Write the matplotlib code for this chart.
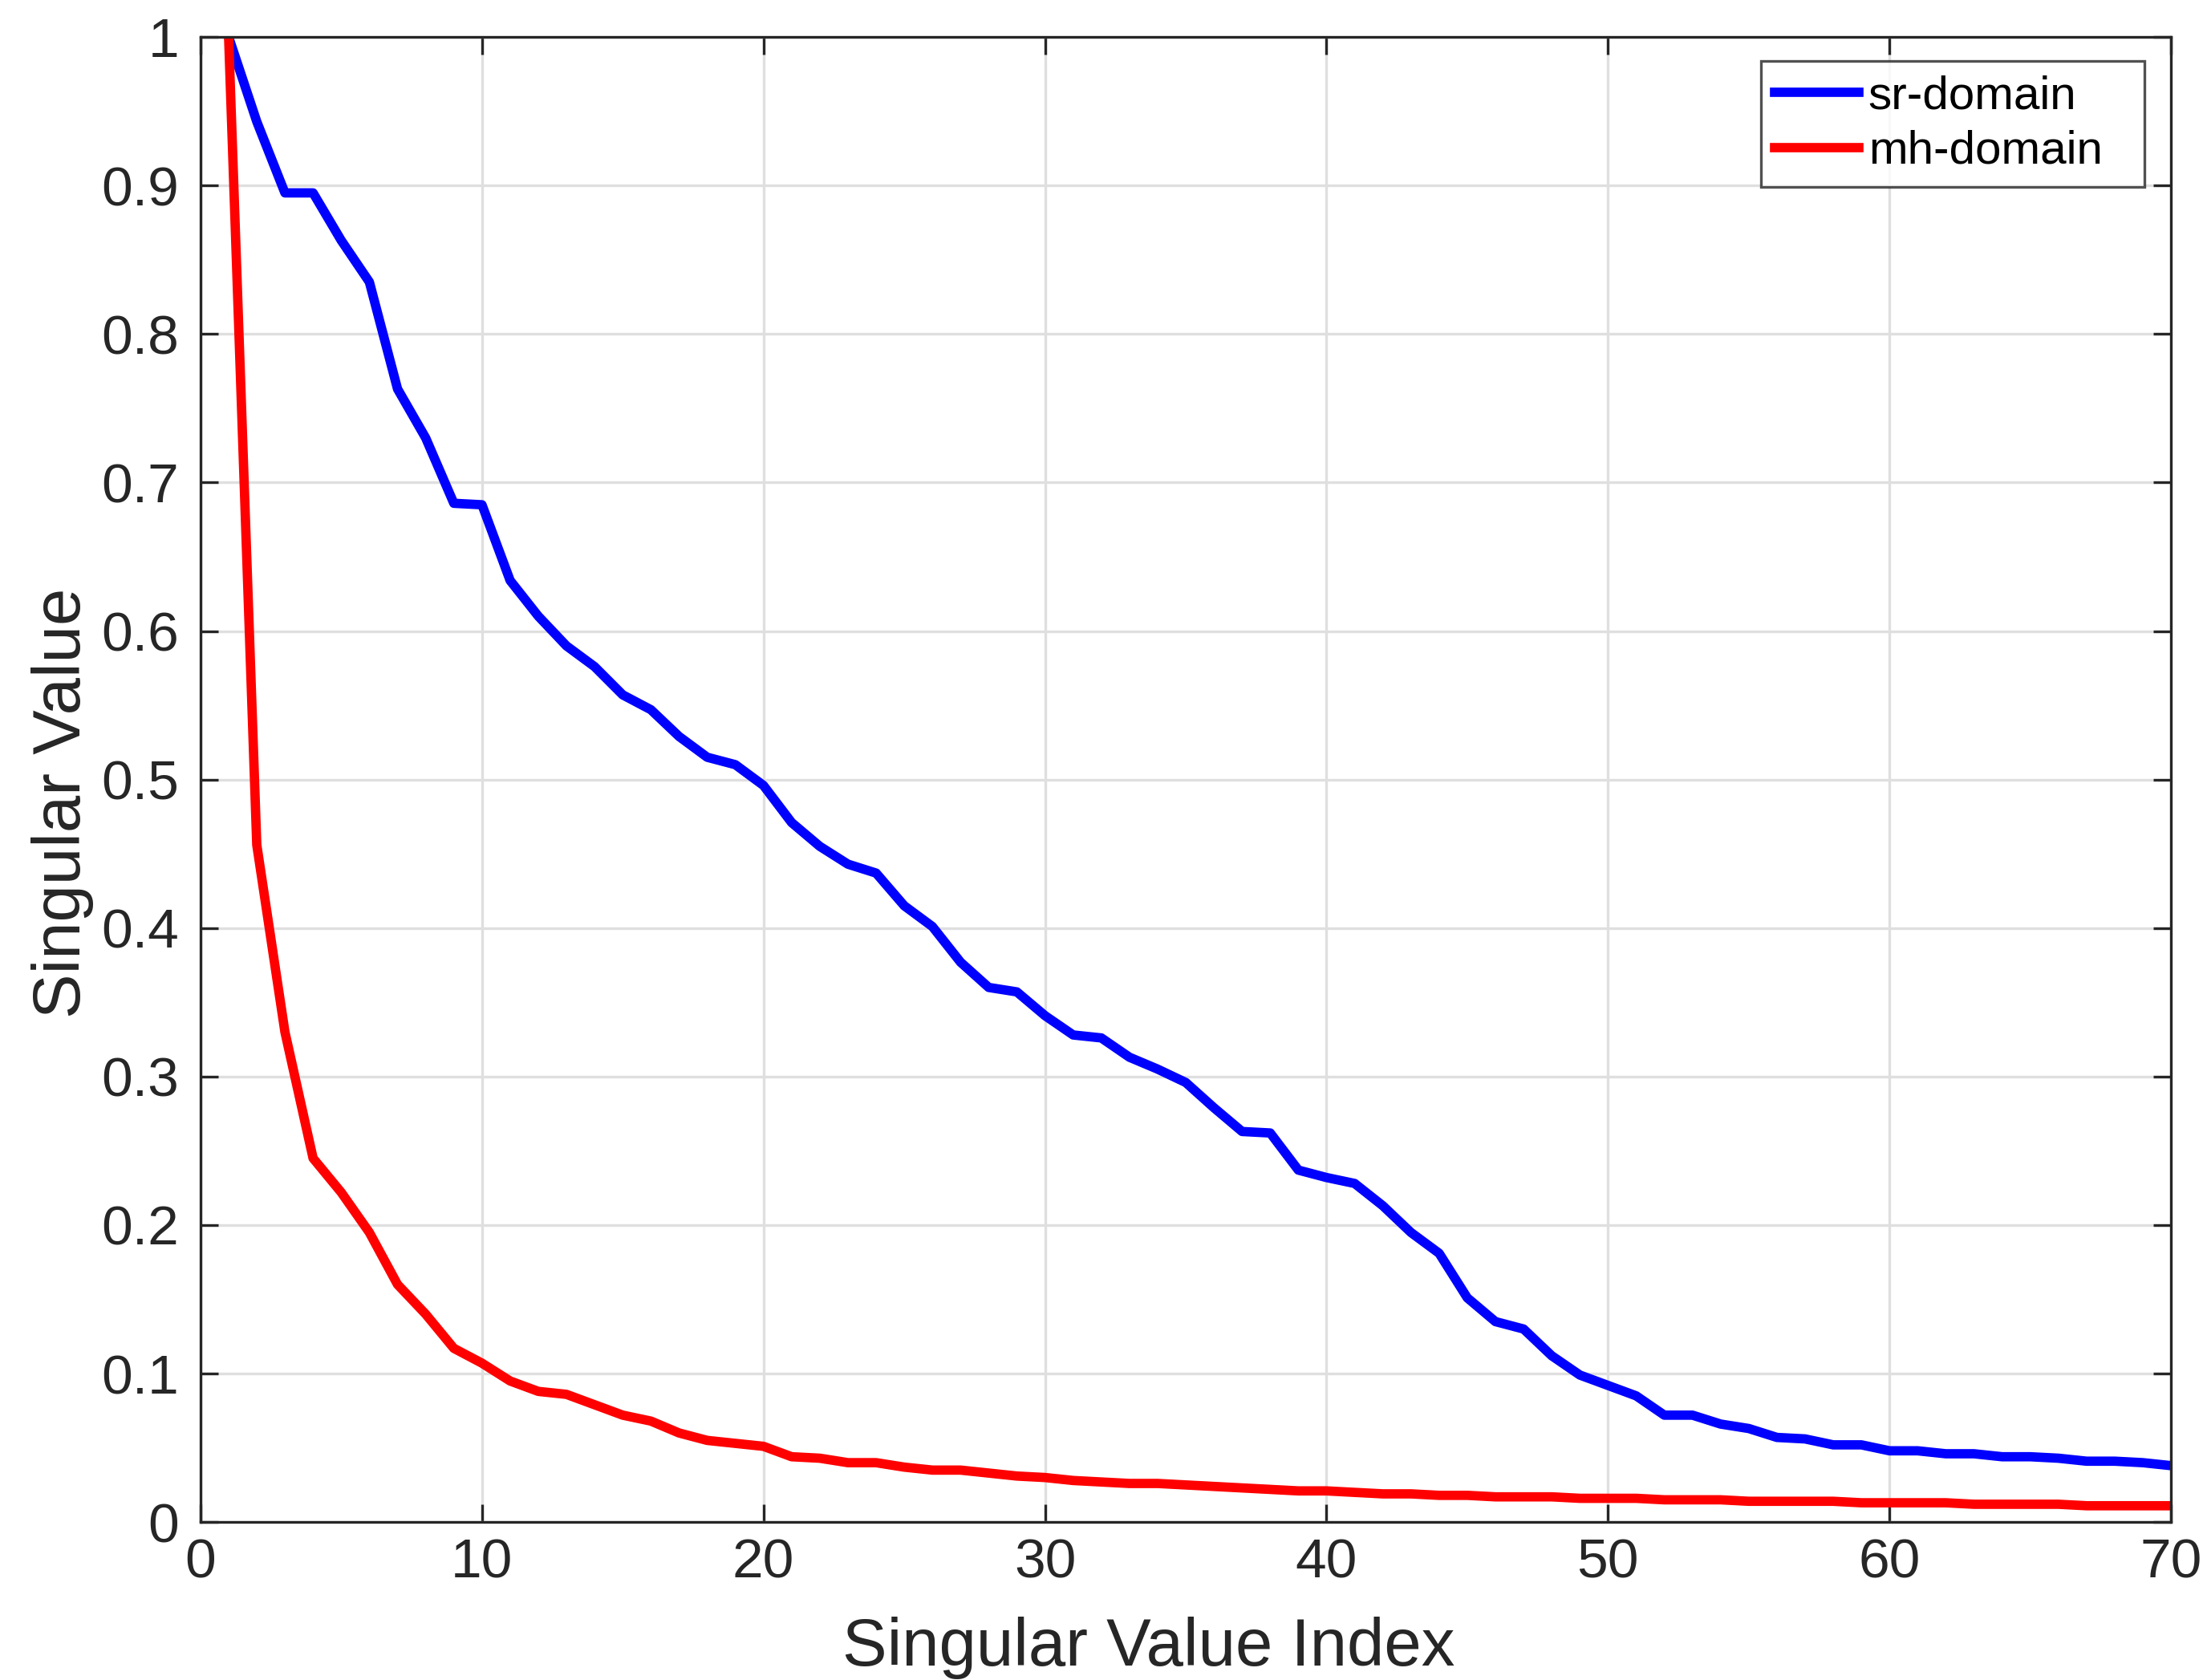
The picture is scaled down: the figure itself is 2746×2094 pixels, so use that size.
import numpy as np
import matplotlib.pyplot as plt

plt.rcParams['font.family'] = ['Liberation Sans', 'DejaVu Sans']

idx = np.arange(1, 71)

sr_domain = [1.0, 0.943, 0.895, 0.895, 0.863, 0.835, 0.763, 0.73, 0.686, 0.685,
             0.634, 0.61, 0.59, 0.576, 0.557, 0.547, 0.529, 0.515, 0.51, 0.496,
             0.471, 0.455, 0.443, 0.437, 0.415, 0.401, 0.377, 0.36, 0.357, 0.341,
             0.328, 0.326, 0.313, 0.305, 0.296, 0.279, 0.263, 0.262, 0.237, 0.232,
             0.228, 0.213, 0.195, 0.181, 0.151, 0.135, 0.13, 0.112, 0.099, 0.092,
             0.085, 0.072, 0.072, 0.066, 0.063, 0.057, 0.056, 0.052, 0.052, 0.048,
             0.048, 0.046, 0.046, 0.044, 0.044, 0.043, 0.041, 0.041, 0.040, 0.038]

mh_domain = [1.0, 0.456, 0.33, 0.245, 0.222, 0.195, 0.16, 0.14, 0.117, 0.107,
             0.095, 0.088, 0.086, 0.079, 0.072, 0.068, 0.06, 0.055, 0.053, 0.051,
             0.044, 0.043, 0.04, 0.04, 0.037, 0.035, 0.035, 0.033, 0.031, 0.03,
             0.028, 0.027, 0.026, 0.026, 0.025, 0.024, 0.023, 0.022, 0.021, 0.021,
             0.02, 0.019, 0.019, 0.018, 0.018, 0.017, 0.017, 0.017, 0.016, 0.016,
             0.016, 0.015, 0.015, 0.015, 0.014, 0.014, 0.014, 0.014, 0.013, 0.013,
             0.013, 0.013, 0.012, 0.012, 0.012, 0.012, 0.011, 0.011, 0.011, 0.011]

fig = plt.figure(figsize=(13.73, 10.47), dpi=200)
ax = fig.add_axes([0.091, 0.094, 0.8945, 0.884])

ax.plot(idx, sr_domain, color='#0000ff', lw=4.2, label='sr-domain')
ax.plot(idx, mh_domain, color='#ff0000', lw=4.2, label='mh-domain')

ax.set_xlim(0, 70)
ax.set_ylim(0, 1)
ax.set_xticks(np.arange(0, 71, 10))
ax.set_yticks(np.arange(0, 1.01, 0.1))
ax.set_yticklabels(['0', '0.1', '0.2', '0.3', '0.4', '0.5', '0.6', '0.7', '0.8', '0.9', '1'])
ax.grid(True, color='#dfdfdf', lw=1.2)
ax.set_axisbelow(True)
ax.tick_params(direction='in', top=True, right=True, length=8, width=1.2,
               labelsize=25, colors='#262626')
ax.tick_params(axis='y', pad=9.5)
ax.tick_params(axis='x', pad=7)
for s in ax.spines.values():
    s.set_color('#262626')
    s.set_linewidth(1.2)

ax.set_xlabel('Singular Value Index', fontsize=30, color='#262626', va='baseline')
ax.set_ylabel('Singular Value', fontsize=30, color='#262626', va='baseline')
ax.xaxis.set_label_coords(0.481, -0.0967)
ax.yaxis.set_label_coords(-0.0611, 0.484)

leg = ax.legend(loc='upper right', bbox_to_anchor=(0.7917, 0, 0.1947, 0.9839),
                mode='expand', borderaxespad=0, fontsize=21, frameon=True,
                fancybox=False, edgecolor='#262626', handlelength=1.8,
                handletextpad=0.2, borderpad=0.3, labelspacing=0.25)
leg.get_frame().set_linewidth(1.2)

fig.savefig('out.png', dpi=200)
